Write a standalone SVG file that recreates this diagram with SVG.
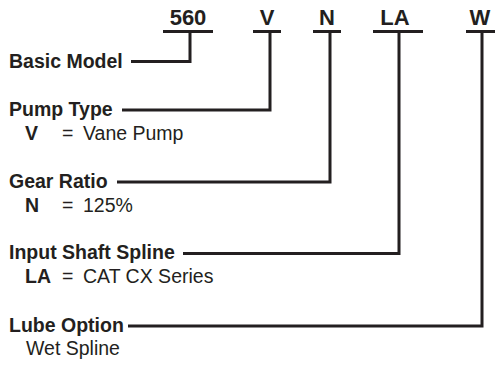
<svg xmlns="http://www.w3.org/2000/svg" width="495" height="365" viewBox="0 0 495 365">
<style>
text{font-family:"Liberation Sans",Arial,sans-serif;fill:#231f20}
.code{font-size:22px;font-weight:bold;text-anchor:middle}
.lbl{font-size:19.5px;font-weight:bold}
.val{font-size:19.5px}
.b{font-weight:bold}
.ln{fill:none;stroke:#231f20;stroke-width:3}
</style>
<rect width="495" height="365" fill="#fff"/>
<g id="codes">
<text class="code" x="188" y="25">560</text>
<text class="code" x="267" y="25">V</text>
<text class="code" x="327" y="25">N</text>
<text class="code" x="395" y="25">LA</text>
<text class="code" x="480" y="25">W</text>
</g>
<g id="basic-model"><text class="lbl" x="9" y="68">Basic Model</text></g>
<g id="pump-type"><text class="lbl" x="9" y="116">Pump Type</text>
<text class="val" x="25" y="140"><tspan class="b">V</tspan><tspan x="62">=</tspan><tspan x="83">Vane Pump</tspan></text></g>
<g id="gear-ratio"><text class="lbl" x="9" y="188">Gear Ratio</text>
<text class="val" x="25" y="212"><tspan class="b">N</tspan><tspan x="62">=</tspan><tspan x="83">125%</tspan></text></g>
<g id="input-shaft"><text class="lbl" x="9" y="259">Input Shaft Spline</text>
<text class="val" x="25" y="283"><tspan class="b">LA</tspan><tspan x="62">=</tspan><tspan x="83">CAT CX Series</tspan></text></g>
<g id="lube-option"><text class="lbl" x="9" y="332">Lube Option</text>
<text class="val" x="26" y="355">Wet Spline</text></g>
<g id="connectors">
<path class="ln" d="M163 31.5H213M253 31.5H281M313 31.5H341M373 31.5H423M466 31.5H495"/>
<path class="ln" d="M190 31.5V61.5H131"/>
<path class="ln" d="M270 31.5V110H122"/>
<path class="ln" d="M330 31.5V182H117"/>
<path class="ln" d="M399 31.5V253.5H183"/>
<path class="ln" d="M482 31.5V326H128"/>
</g>
</svg>
